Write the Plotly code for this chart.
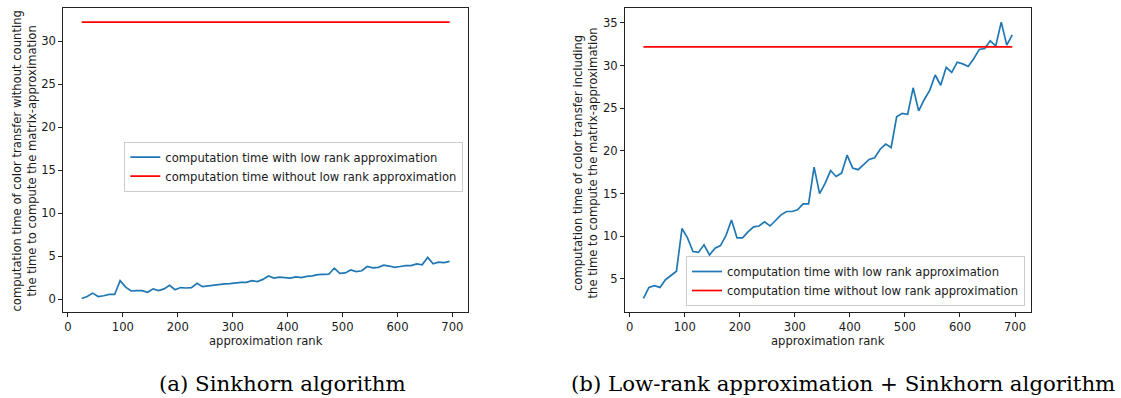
import plotly.graph_objects as go

# ---------------- data ----------------
ranks = list(range(25, 700, 10))  # 25, 35, ..., 695

time_without_counting = [
    0.08, 0.3, 0.7, 0.3, 0.4, 0.55, 0.55, 2.15, 1.4, 0.95,
    1.0, 1.0, 0.8, 1.2, 1.0, 1.2, 1.6, 1.1, 1.35, 1.3,
    1.35, 1.85, 1.45, 1.55, 1.65, 1.75, 1.77, 1.8, 1.9, 1.95,
    1.95, 2.15, 2.05, 2.3, 2.7, 2.45, 2.55, 2.5, 2.45, 2.6,
    2.5, 2.65, 2.7, 2.85, 2.9, 2.9, 3.6, 3.0, 3.05, 3.4,
    3.2, 3.3, 3.8, 3.65, 3.7, 3.95, 3.85, 3.7, 3.8, 3.9,
    3.9, 4.1, 4.0, 4.85, 4.1, 4.3, 4.25, 4.4,
]

time_including = [
    2.7, 4.0, 4.2, 4.0, 4.9, 5.4, 5.9, 10.9, 9.8, 8.2,
    8.1, 9.0, 7.8, 8.6, 8.9, 10.1, 11.9, 9.8, 9.8, 10.5,
    11.1, 11.2, 11.7, 11.2, 11.8, 12.5, 12.9, 12.9, 13.1, 13.8,
    13.8, 18.1, 15.0, 16.2, 17.7, 17.0, 17.4, 19.5, 18.0, 17.8,
    18.4, 19.0, 19.2, 20.2, 20.8, 20.4, 24.0, 24.4, 24.3, 27.4,
    24.7, 26.0, 27.1, 28.9, 27.7, 29.8, 29.2, 30.4, 30.2, 29.9,
    30.8, 31.9, 32.0, 32.9, 32.3, 35.1, 32.4, 33.6,
]

baseline_time = 32.2  # computation time without low rank approximation
baseline = [baseline_time] * len(ranks)

x_ticks = [0, 100, 200, 300, 400, 500, 600, 700]
y_ticks_left = [0, 5, 10, 15, 20, 25, 30]
y_ticks_right = [5, 10, 15, 20, 25, 30, 35]

label_with = "computation time with low rank approximation"
label_without = "computation time without low rank approximation"
x_title = "approximation rank"
y_title_left = ("computation time of color transfer without counting<br>"
                "the time to compute the matrix-approximation")
y_title_right = ("computation time of color transfer including<br>"
                 "the time to compute the matrix-approximation")
caption_a = "(a) Sinkhorn algorithm"
caption_b = "(b) Low-rank approximation + Sinkhorn algorithm"

# ---------------- figure ----------------
W, H = 1121, 398
BLUE = "#1f77b4"
RED = "#ff0000"
FONT = "DejaVu Sans"
SERIF = "DejaVu Serif"
FS = 11.6
TXT = "#1a1a1a"

fig = go.Figure()

fig.add_trace(go.Scatter(x=ranks, y=time_without_counting, mode="lines",
                         line=dict(color=BLUE, width=1.7), name=label_with,
                         xaxis="x", yaxis="y", legend="legend"))
fig.add_trace(go.Scatter(x=ranks, y=baseline, mode="lines",
                         line=dict(color=RED, width=1.7), name=label_without,
                         xaxis="x", yaxis="y", legend="legend"))
fig.add_trace(go.Scatter(x=ranks, y=time_including, mode="lines",
                         line=dict(color=BLUE, width=1.7), name=label_with,
                         xaxis="x2", yaxis="y2", legend="legend2"))
fig.add_trace(go.Scatter(x=ranks, y=baseline, mode="lines",
                         line=dict(color=RED, width=1.7), name=label_without,
                         xaxis="x2", yaxis="y2", legend="legend2"))


def pad_range(vals, frac=0.05):
    lo, hi = min(vals), max(vals)
    m = (hi - lo) * frac
    return [lo - m, hi + m]


xr = pad_range(ranks)
yr_left = pad_range(time_without_counting + baseline)
yr_right = pad_range(time_including + baseline)

axis_common = dict(showline=True, mirror=True, linecolor="#222", linewidth=1,
                   ticks="outside", ticklen=4, tickwidth=1, tickcolor="#222",
                   showgrid=False, zeroline=False,
                   tickfont=dict(family=FONT, size=FS, color=TXT))

ytop = 1 - 8.3 / H
ybot = 1 - 312.3 / H

legend_common = dict(bgcolor="white", bordercolor="#cccccc", borderwidth=1,
                     font=dict(family=FONT, size=FS, color=TXT),
                     itemwidth=30, tracegroupgap=0)

fig.update_layout(
    width=W, height=H,
    margin=dict(l=0, r=0, t=0, b=0),
    paper_bgcolor="white", plot_bgcolor="white",
    showlegend=True,
    xaxis=dict(domain=[63.3 / W, 468 / W], range=xr, tickvals=x_ticks,
               anchor="y", **axis_common),
    yaxis=dict(domain=[ybot, ytop], range=yr_left, tickvals=y_ticks_left,
               anchor="x", **axis_common),
    xaxis2=dict(domain=[625 / W, 1030.7 / W], range=xr, tickvals=x_ticks,
                anchor="y2", **axis_common),
    yaxis2=dict(domain=[ybot, ytop], range=yr_right, tickvals=y_ticks_right,
                anchor="x2", **axis_common),
    legend=dict(x=463.3 / W, y=1 - 141.7 / H, xanchor="right", yanchor="top",
                **legend_common),
    legend2=dict(x=1025 / W, y=1 - 306 / H, xanchor="right", yanchor="bottom",
                 **legend_common),
)

annotations = [
    dict(text=x_title, x=265.7 / W, y=1 - 341 / H, xref="paper", yref="paper",
         showarrow=False, font=dict(family=FONT, size=FS, color=TXT),
         xanchor="center", yanchor="middle"),
    dict(text=x_title, x=828 / W, y=1 - 341 / H, xref="paper", yref="paper",
         showarrow=False, font=dict(family=FONT, size=FS, color=TXT),
         xanchor="center", yanchor="middle"),
    dict(text=y_title_left, x=24.5 / W, y=1 - 161 / H, xref="paper", yref="paper",
         showarrow=False, textangle=-90,
         font=dict(family=FONT, size=FS, color=TXT),
         xanchor="center", yanchor="middle"),
    dict(text=y_title_right, x=585 / W, y=1 - 163.5 / H, xref="paper", yref="paper",
         showarrow=False, textangle=-90,
         font=dict(family=FONT, size=FS, color=TXT),
         xanchor="center", yanchor="middle"),
    dict(text=caption_a, x=282 / W, y=1 - 383 / H, xref="paper", yref="paper",
         showarrow=False, font=dict(family=SERIF, size=21.3, color="black"),
         xanchor="center", yanchor="middle"),
    dict(text=caption_b, x=843 / W, y=1 - 383 / H, xref="paper", yref="paper",
         showarrow=False, font=dict(family=SERIF, size=21.3, color="black"),
         xanchor="center", yanchor="middle"),
]
fig.update_layout(annotations=annotations)

fig.write_html("out.html",
               config={"displayModeBar": False},
               post_script="document.body.style.margin='0';"
                           "document.body.style.overflow='hidden';")
